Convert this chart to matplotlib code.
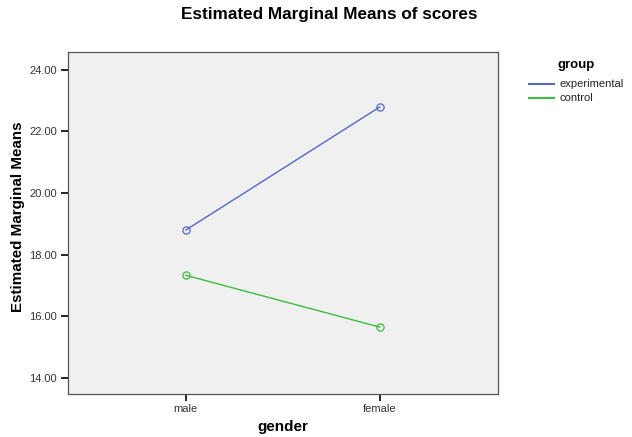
import matplotlib
matplotlib.use("Agg")
import matplotlib.pyplot as plt
from matplotlib.lines import Line2D

plt.rcParams['font.family'] = ['Liberation Sans', 'DejaVu Sans']

genders = ["male", "female"]
groups = ["experimental", "control"]
experimental = [18.80, 22.79]
control = [17.33, 15.65]
yticks = [14, 16, 18, 20, 22, 24]
colors = {"experimental": "#5468C4", "control": "#3DBD3D"}

W, H = 632, 437
fig = plt.figure(figsize=(W / 100, H / 100), dpi=100)
ax = fig.add_axes([0.107, 0.0984, 0.681, 0.7816])
ax.set_facecolor("#F0F0F0")
x = list(range(len(genders)))
for name, vals in zip(groups, [experimental, control]):
    ax.plot(x, vals, color=colors[name], lw=1.0, marker='o', ms=5.2,
            mfc='none', mec=colors[name], mew=0.9, label=name)

ax.set_xlim(-0.61, 1.61)
ax.set_ylim(13.48, 24.56)
ax.set_xticks(x)
ax.set_xticklabels(genders)
ax.set_yticks(yticks)
ax.set_yticklabels([f"{v:.2f}" for v in yticks])
ax.tick_params(axis='both', labelsize=8, labelcolor='#333333', length=5, width=1.2, color='black', pad=2.5)
for s in ax.spines.values():
    s.set_color('#555555')
    s.set_linewidth(0.9)

ax.set_xlabel("gender", fontsize=11, fontweight='bold', labelpad=4)
fig.text(18 / W, 1 - 217 / H, "Estimated Marginal Means", rotation=90, ha='center', va='center',
         fontsize=10.9, fontweight='bold')
fig.text(329 / W, 1 - 14 / H, "Estimated Marginal Means of scores", ha='center', va='center',
         fontsize=12.3, fontweight='bold')

# legend drawn in figure coordinates
fig.text(576.5 / W, 1 - 65 / H, "group", ha='center', va='center', fontsize=9.5, fontweight='bold')
for i, g in enumerate(groups):
    yy = 1 - (84 + 14.3 * i) / H
    fig.add_artist(Line2D([529 / W, 554 / W], [yy, yy], color=colors[g], lw=1.5,
                          transform=fig.transFigure))
    fig.text(560 / W, yy, g, ha='left', va='center', fontsize=8, color='#222222')

fig.savefig("out.png", dpi=100)
